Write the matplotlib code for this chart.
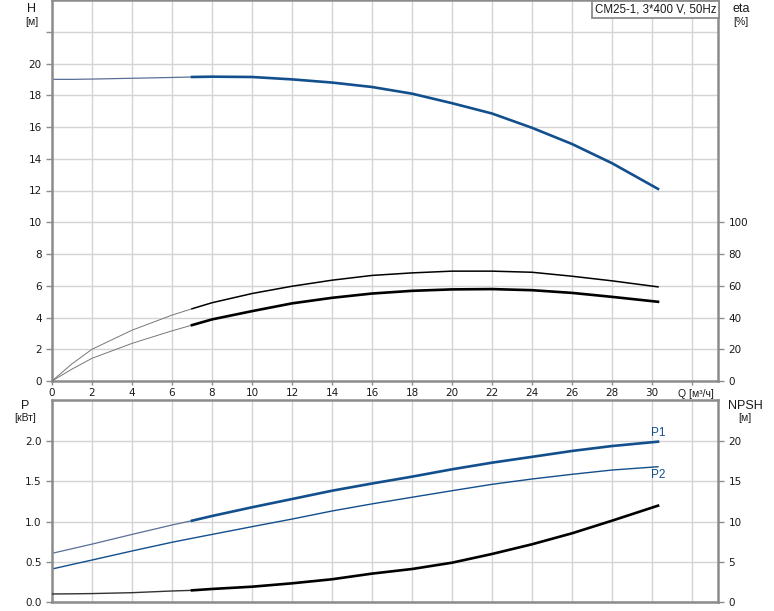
import matplotlib
matplotlib.use("Agg")
import matplotlib.pyplot as plt
import numpy as np

plt.rcParams['font.family'] = ['Liberation Sans', 'DejaVu Sans']

# ---- data ----
Q = [0, 1, 2, 4, 6, 7, 8, 10, 12, 14, 16, 18, 20, 22, 24, 26, 28, 30.3]
H = [19.0, 19.0, 19.02, 19.07, 19.12, 19.15, 19.17, 19.15, 19.0, 18.8, 18.52,
     18.1, 17.5, 16.85, 15.95, 14.93, 13.72, 12.1]
eta_upper = [0, 10.8, 20, 32, 41.5, 45.5, 49.3, 55.1, 59.7, 63.5, 66.5, 68.1,
             69.2, 69.2, 68.5, 66, 63.1, 59.3]
eta_lower = [0, 7.5, 14.3, 23.7, 31.6, 35.2, 38.8, 44, 48.9, 52.4, 55.1, 56.8,
             57.7, 57.9, 57.2, 55.5, 53, 49.9]
P1 = [0.606, 0.663, 0.72, 0.84, 0.957, 1.01, 1.068, 1.176, 1.278, 1.381, 1.47,
      1.555, 1.646, 1.728, 1.80, 1.873, 1.934, 1.988]
P2 = [0.412, 0.468, 0.523, 0.635, 0.743, 0.792, 0.84, 0.936, 1.03, 1.13, 1.218,
      1.30, 1.381, 1.46, 1.526, 1.584, 1.637, 1.678]
NPSH = [1.03, 1.05, 1.08, 1.19, 1.40, 1.48, 1.65, 1.93, 2.35, 2.85, 3.55, 4.12,
        4.9, 5.98, 7.18, 8.54, 10.1, 11.96]
Q_split = 7  # start of the bold (operating) range

title_text = "CM25-1, 3*400 V, 50Hz"
x_ticks = list(range(0, 33, 2))
x_labels = [str(v) for v in range(0, 31, 2)] + [""]
H_ticks = list(range(0, 23, 2))
H_labels = [str(v) if v <= 20 else '' for v in H_ticks]
eta_ticks = list(range(0, 101, 20))
P_ticks = [0.0, 0.5, 1.0, 1.5, 2.0]
NPSH_ticks = [0, 5, 10, 15, 20]

# ---- styling ----
BLUE = '#124f8c'
BLUE_THIN = '#5a6f96'
GRID = '#d4d4d4'
SPINE = '#8c8c8c'
TXT = '#1a1a1a'
FS = 7.5
TICKFONT = 'DejaVu Sans'

Q = np.array(Q)
thin = Q <= Q_split
thick = Q >= Q_split

fig = plt.figure(figsize=(7.74, 6.11), dpi=100)
W, Hh = 774, 611
def frac(l, t, r, b):
    return [l / W, 1 - b / Hh, (r - l) / W, (b - t) / Hh]

ax1 = fig.add_axes(frac(52, 0, 718, 381))
ax2 = fig.add_axes(frac(52, 400.3, 718, 602.3))
XMAX = 33.3

def tickfont(ax):
    for lab in ax.get_xticklabels() + ax.get_yticklabels():
        lab.set_fontfamily(TICKFONT)
        lab.set_fontsize(FS)

def style(ax):
    ax.set_xlim(0, XMAX)
    ax.set_xticks(x_ticks)
    ax.grid(True, color=GRID, linewidth=1.0)
    ax.set_axisbelow(True)
    for s in ax.spines.values():
        s.set_color(SPINE)
        s.set_linewidth(1.8)
    ax.tick_params(colors=SPINE, labelcolor=TXT, labelsize=FS, length=4, width=1)

style(ax1)
style(ax2)

# top panel
ax1.set_ylim(0, 24)
ax1.set_yticks(H_ticks)
ax1.set_yticklabels(H_labels)
ax1.set_xticklabels(x_labels)
ax1.tick_params(axis='x', length=3, pad=2)
tickfont(ax1)
ax1.annotate("Q [м³/ч]", xy=(32.2, 0), xycoords=('data', 'axes fraction'),
             xytext=(0, -5.5), textcoords='offset points', ha='center', va='top',
             fontsize=FS, color=TXT, annotation_clip=False)

ax1.plot(Q[thin], np.array(H)[thin], color=BLUE_THIN, lw=0.9)
ax1.plot(Q[thick], np.array(H)[thick], color=BLUE, lw=1.9)

ax1r = ax1.twinx()
ax1r.set_ylim(0, 240)
ax1r.set_yticks(eta_ticks)
ax1r.tick_params(colors=SPINE, labelcolor=TXT, labelsize=FS, length=4, width=1)
tickfont(ax1r)
for s in ax1r.spines.values():
    s.set_visible(False)
ax1r.plot(Q[thin], np.array(eta_upper)[thin], color='#777777', lw=0.7)
ax1r.plot(Q[thick], np.array(eta_upper)[thick], color='black', lw=1.1)
ax1r.plot(Q[thin], np.array(eta_lower)[thin], color='#777777', lw=0.7)
ax1r.plot(Q[thick], np.array(eta_lower)[thick], color='black', lw=1.9)

ax1.text(0.9975, 0.991, title_text, transform=ax1.transAxes, ha='right', va='top',
         fontsize=8.3, color=TXT,
         bbox=dict(boxstyle='square,pad=0.22', facecolor='white', edgecolor='#8c8c8c', lw=1.3))

fig.text(32 / W, 1 - 9 / Hh, "H", ha='center', va='center', fontsize=9, color=TXT)
fig.text(32 / W, 1 - 22 / Hh, "[м]", ha='center', va='center', fontsize=FS, color=TXT)
fig.text(741 / W, 1 - 9 / Hh, "eta", ha='center', va='center', fontsize=9, color=TXT)
fig.text(741 / W, 1 - 22 / Hh, "[%]", ha='center', va='center', fontsize=FS, color=TXT)

# bottom panel
ax2.set_ylim(0, 2.5)
ax2.set_yticks(P_ticks)
ax2.set_yticklabels([f"{v:.1f}" for v in P_ticks])
ax2.tick_params(axis='x', length=0, labelbottom=False)
tickfont(ax2)

ax2.plot(Q[thin], np.array(P1)[thin], color=BLUE_THIN, lw=0.9)
ax2.plot(Q[thick], np.array(P1)[thick], color=BLUE, lw=1.9)
ax2.plot(Q, P2, color=BLUE, lw=1.0)

ax2r = ax2.twinx()
ax2r.set_ylim(0, 25)
ax2r.set_yticks(NPSH_ticks)
ax2r.tick_params(colors=SPINE, labelcolor=TXT, labelsize=FS, length=4, width=1)
tickfont(ax2r)
for s in ax2r.spines.values():
    s.set_visible(False)
ax2r.plot(Q[thin], np.array(NPSH)[thin], color='#333333', lw=1.0)
ax2r.plot(Q[thick], np.array(NPSH)[thick], color='black', lw=1.9)

ax2.annotate("P1", xy=(Q[-1], P1[-1]), xytext=(0, 2), textcoords='offset points',
             ha='center', va='bottom', fontsize=8.5, color=BLUE)
ax2.annotate("P2", xy=(Q[-1], P2[-1]), xytext=(0, -2), textcoords='offset points',
             ha='center', va='top', fontsize=8.5, color=BLUE)

fig.text(25 / W, 1 - 406 / Hh, "P", ha='center', va='center', fontsize=9, color=TXT)
fig.text(25 / W, 1 - 418 / Hh, "[кВт]", ha='center', va='center', fontsize=FS, color=TXT)
fig.text(745 / W, 1 - 406 / Hh, "NPSH", ha='center', va='center', fontsize=9, color=TXT)
fig.text(745 / W, 1 - 418 / Hh, "[м]", ha='center', va='center', fontsize=FS, color=TXT)

fig.savefig("out.png", dpi=100)
